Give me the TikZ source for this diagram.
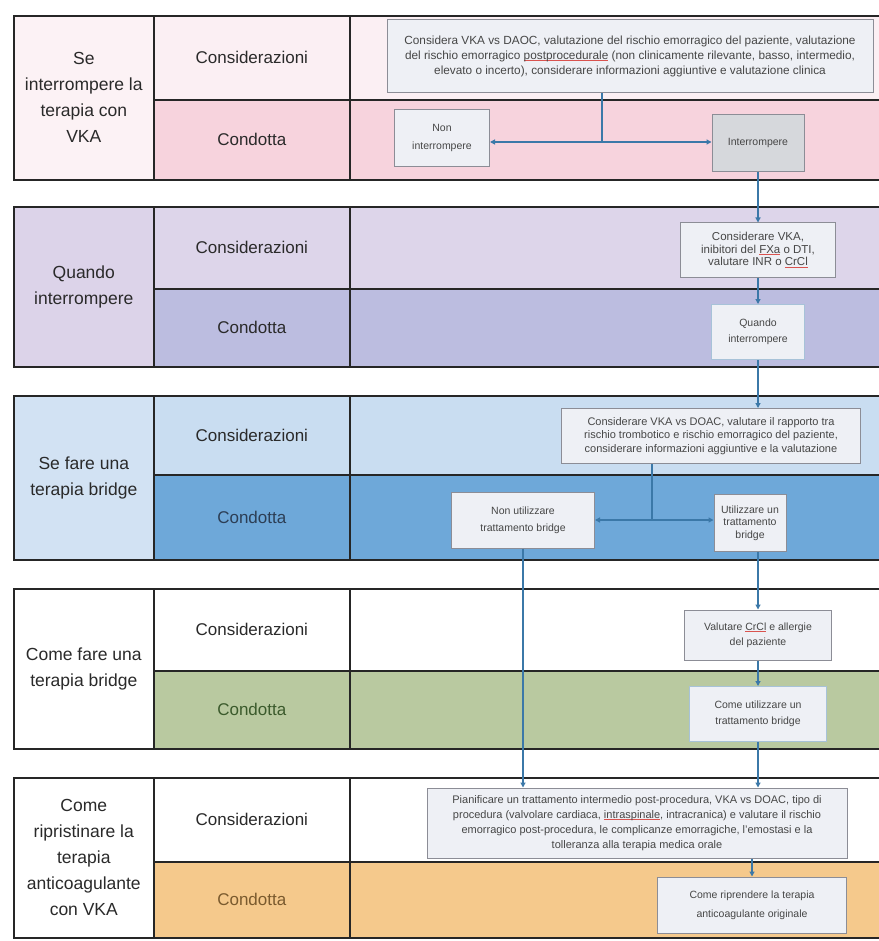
\documentclass[tikz,border=0pt]{standalone}
\usepackage{fontspec}
\setmainfont{Liberation Sans}
\usetikzlibrary{arrows.meta}

% palette
\definecolor{rulec}{HTML}{262626}
\definecolor{txt}{HTML}{2A2A2A}
\definecolor{boxtxt}{HTML}{464646}
\definecolor{boxfill}{HTML}{EEF0F5}
\definecolor{boxline}{HTML}{8C8D96}
\definecolor{flow}{HTML}{3B78A8}
\definecolor{spell}{HTML}{D9534F}
% band 1
\definecolor{pinkL}{HTML}{FCF2F5}
\definecolor{pinkC}{HTML}{FBEFF3}
\definecolor{pinkD}{HTML}{F7D3DD}
% band 2
\definecolor{lilacL}{HTML}{DCD3E9}
\definecolor{lilacC}{HTML}{DDD5EA}
\definecolor{lilacD}{HTML}{BCBDE0}
% band 3
\definecolor{blueL}{HTML}{D2E2F3}
\definecolor{blueC}{HTML}{C9DDF1}
\definecolor{blueD}{HTML}{6EA8D9}
\definecolor{blueT}{HTML}{2C3E55}
% band 4
\definecolor{greenD}{HTML}{B9C9A0}
\definecolor{greenT}{HTML}{3B5A2C}
% band 5
\definecolor{orangeD}{HTML}{F5C98C}
\definecolor{orangeT}{HTML}{7A5A2E}

% thin red mark under a word
\newcommand\spellmark[1]{\setbox0\hbox{#1}\rlap{\color{spell}\rule[-1.6pt]{\wd0}{0.7pt}}\box0\relax}

\begin{document}
\begin{tikzpicture}[x=1pt,y=-1pt,
  cell/.style={draw=rulec, line width=1.6pt, anchor=north west, inner sep=0pt,
    align=center, text=txt},
  labcell/.style={cell, minimum width=140pt, font=\fontsize{17.5}{26}\selectfont},
  midcell/.style={cell, minimum width=196pt, font=\fontsize{17}{20}\selectfont},
  rgtcell/.style={cell, minimum width=545pt},
  fbox/.style={draw=boxline, fill=boxfill, line width=1pt, inner sep=2pt,
    align=center, text=boxtxt, font=\fontsize{10.5}{13}\selectfont},
  conn/.style={draw=flow, line width=1.2pt},
  arr/.style={conn, -{Triangle[length=5pt,width=5pt]}}
]
\useasboundingbox (0,0) rectangle (878,941);
\fill[white] (0,0) rectangle (878,941);

% ---------- band 1 : whether to interrupt ----------
\node[rgtcell, fill=pinkC, minimum height=84pt] (r1c) at (349,15) {};
\node[rgtcell, fill=pinkD, minimum height=80pt] (r1d) at (349,99) {};
\node[labcell, fill=pinkL, minimum height=164pt] (lab1) at (13,15)
  {Se\\interrompere la\\terapia con\\VKA};
\node[midcell, fill=pinkC, minimum height=84pt] (cons1) at (153,15) {Considerazioni};
\node[midcell, fill=pinkD, minimum height=80pt] (cond1) at (153,99) {Condotta};

% ---------- band 2 : when to interrupt ----------
\node[rgtcell, fill=lilacC, minimum height=82pt] (r2c) at (349,206) {};
\node[rgtcell, fill=lilacD, minimum height=78pt] (r2d) at (349,288) {};
\node[labcell, fill=lilacL, minimum height=160pt] (lab2) at (13,206)
  {Quando\\interrompere};
\node[midcell, fill=lilacC, minimum height=82pt] (cons2) at (153,206) {Considerazioni};
\node[midcell, fill=lilacD, minimum height=78pt] (cond2) at (153,288) {Condotta};

% ---------- band 3 : whether to bridge ----------
\node[rgtcell, fill=blueC, minimum height=79pt] (r3c) at (349,395) {};
\node[rgtcell, fill=blueD, minimum height=85pt] (r3d) at (349,474) {};
\node[labcell, fill=blueL, minimum height=164pt] (lab3) at (13,395)
  {Se fare una\\terapia bridge};
\node[midcell, fill=blueC, minimum height=79pt] (cons3) at (153,395) {Considerazioni};
\node[midcell, fill=blueD, minimum height=85pt, text=blueT] (cond3) at (153,474) {Condotta};

% ---------- band 4 : how to bridge ----------
\node[rgtcell, fill=white, minimum height=82pt] (r4c) at (349,588) {};
\node[rgtcell, fill=greenD, minimum height=78pt] (r4d) at (349,670) {};
\node[labcell, fill=white, minimum height=160pt] (lab4) at (13,588)
  {Come fare una\\terapia bridge};
\node[midcell, fill=white, minimum height=82pt] (cons4) at (153,588) {Considerazioni};
\node[midcell, fill=greenD, minimum height=78pt, text=greenT] (cond4) at (153,670) {Condotta};

% ---------- band 5 : restarting anticoagulation ----------
\node[rgtcell, fill=white, minimum height=84pt] (r5c) at (349,777) {};
\node[rgtcell, fill=orangeD, minimum height=76pt] (r5d) at (349,861) {};
\node[labcell, fill=white, minimum height=160pt] (lab5) at (13,777)
  {Come\\ripristinare la\\terapia\\anticoagulante\\con VKA};
\node[midcell, fill=white, minimum height=84pt] (cons5) at (153,777) {Considerazioni};
\node[midcell, fill=orangeD, minimum height=76pt, text=orangeT] (cond5) at (153,861) {Condotta};

% ---------- decision boxes ----------
\node[fbox, minimum width=486pt, minimum height=73pt, font=\fontsize{11.8}{15}\selectfont] (c1) at (630,56)
  {Considera VKA vs DAOC, valutazione del rischio emorragico del paziente, valutazione\\
   del rischio emorragico \spellmark{postprocedurale} (non clinicamente rilevante, basso, intermedio,\\
   elevato o incerto), considerare informazioni aggiuntive e valutazione clinica};
\node[fbox, minimum width=95pt, minimum height=57pt, font=\fontsize{10.5}{18}\selectfont] (non1) at (442,138) {Non\\interrompere};
\node[fbox, fill=black!10!boxfill, minimum width=92pt, minimum height=57pt] (int1) at (758,143) {Interrompere};

\node[fbox, minimum width=155pt, minimum height=54pt, font=\fontsize{11.5}{12.5}\selectfont] (c2) at (758,250)
  {Considerare VKA,\\inibitori del \spellmark{FXa} o DTI,\\valutare INR o \spellmark{CrCl}};
\node[fbox, draw=flow!45, minimum width=93pt, minimum height=55pt, font=\fontsize{10.5}{16}\selectfont] (d2) at (758,332) {Quando\\interrompere};

\node[fbox, minimum width=299pt, minimum height=55pt, font=\fontsize{11}{13.5}\selectfont] (c3) at (711,436)
  {Considerare VKA vs DOAC, valutare il rapporto tra\\
   rischio trombotico e rischio emorragico del paziente,\\
   considerare informazioni aggiuntive e la valutazione};
\node[fbox, minimum width=143pt, minimum height=56pt, font=\fontsize{10.5}{17}\selectfont] (n3) at (523,520) {Non utilizzare\\trattamento bridge};
\node[fbox, minimum width=72pt, minimum height=57pt, font=\fontsize{10.5}{12.5}\selectfont] (u3) at (750,523) {Utilizzare un\\trattamento\\bridge};

\node[fbox, minimum width=147pt, minimum height=50pt, font=\fontsize{10.5}{15}\selectfont] (c4) at (758,635)
  {Valutare \spellmark{CrCl} e allergie\\del paziente};
\node[fbox, draw=flow!45, minimum width=137pt, minimum height=55pt, font=\fontsize{10.5}{16}\selectfont] (d4) at (758,714)
  {Come utilizzare un\\trattamento bridge};

\node[fbox, minimum width=420pt, minimum height=70pt, font=\fontsize{11}{15}\selectfont] (c5) at (637,823)
  {Pianificare un trattamento intermedio post-procedura, VKA vs DOAC, tipo di\\
   procedura (valvolare cardiaca, \spellmark{intraspinale}, intracranica) e valutare il rischio\\
   emorragico post-procedura, le complicanze emorragiche, l'emostasi e la\\
   tolleranza alla terapia medica orale};
\node[fbox, minimum width=189pt, minimum height=56pt, font=\fontsize{10.5}{19}\selectfont] (d5) at (752,905)
  {Come riprendere la terapia\\anticoagulante originale};

% ---------- connectors ----------
\coordinate (j1) at (602,142);
\draw[conn] (c1.south -| j1) -- (j1);
\draw[arr] (j1) -- (j1 -| non1.east);
\draw[arr] (j1) -- (j1 -| int1.west);
\draw[arr] (int1) -- (c2);
\draw[arr] (c2) -- (d2);
\draw[arr] (d2.south) -- (d2.south |- c3.north);

\coordinate (j3) at (652,520);
\draw[conn] (c3.south -| j3) -- (j3);
\draw[arr] (j3) -- (j3 -| n3.east);
\draw[arr] (j3) -- (j3 -| u3.west);
\draw[arr] (u3.south -| c4.north) -- (c4.north);
\draw[arr] (c4) -- (d4);
\draw[arr] (d4.south) -- (d4.south |- c5.north);
\draw[arr] (n3.south) -- (n3.south |- c5.north);
\draw[arr] (c5.south -| d5.north) -- (d5.north);
\end{tikzpicture}
\end{document}
